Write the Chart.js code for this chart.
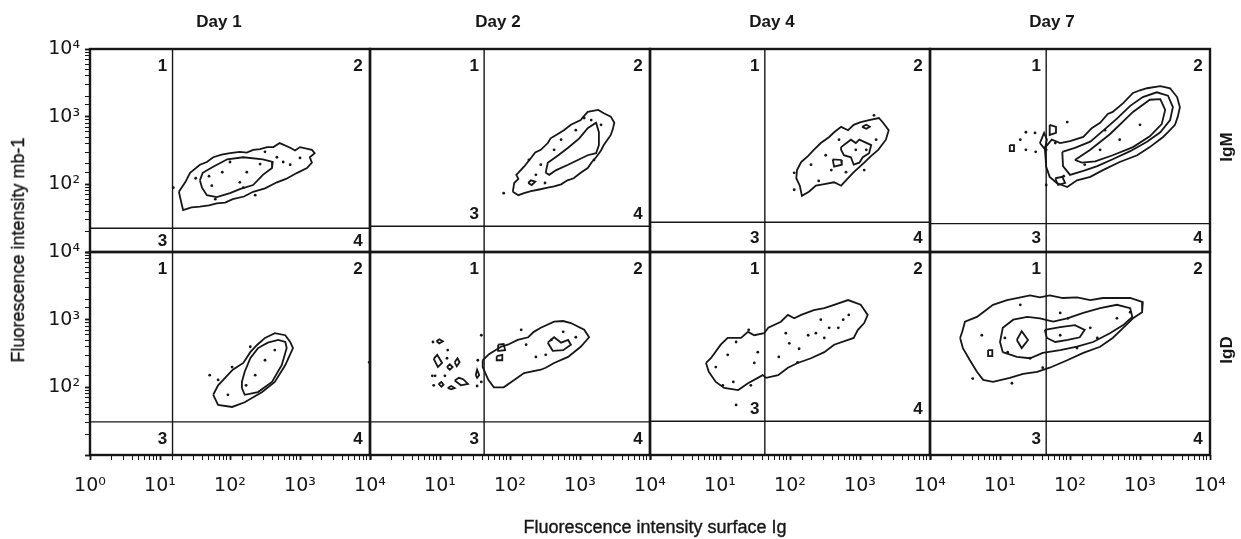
<!DOCTYPE html>
<html>
<head>
<meta charset="utf-8">
<script src="https://cdn.jsdelivr.net/npm/chart.js@4.4.1/dist/chart.umd.min.js"></script>
<style>
  html, body { margin: 0; background: #fff; }
  #wrap { position: relative; width: 1241px; height: 539px; font-family: "Liberation Sans", Arial, sans-serif; color: #161616; }
  #wrap canvas { position: absolute; left: 0; top: 0; }
  .t { position: absolute; white-space: nowrap; transform: translate(-50%, -50%); line-height: 1; }
  .day { font-weight: bold; font-size: 17px; }
  .axis { font-size: 18px; -webkit-text-stroke: 0.35px #161616; }
  .row { font-size: 17px; font-weight: bold; }
  .rot { transform: translate(-50%, -50%) rotate(-90deg); }
</style>
</head>
<body>
<div id="wrap">
  <canvas id="c" width="1241" height="539"></canvas>
</div>
<script>
const COLS = ['Day 1', 'Day 2', 'Day 4', 'Day 7'];
const ROWS = ['IgM', 'IgD'];
const X_TITLE = 'Fluorescence intensity surface Ig';
const Y_TITLE = 'Fluorescence intensity mb-1';
const X_RANGE = [1, 10000];
const Y_RANGE = [10, 10000];

// quadrant gates per [row][col]
const X_GATE = [[15.1, 42.7, 43.7, 45.7], [15.1, 42.7, 43.7, 45.7]];
const Y_GATE = [[22.4, 24.0, 27.5, 26.3], [30.9, 30.9, 31.6, 31.6]];
const LOW_LABELS_ABOVE = [[false, true, false, false], [false, false, true, false]];
const QUAD_LABELS = ['1', '2', '3', '4'];

// contour rings, as [log10 x, log10 y] pairs
const IGM_D1 = [
  [[1.27, 1.89], [1.30, 1.75], [1.33, 1.62], [1.45, 1.66], [1.57, 1.67], [1.70, 1.69], [1.81, 1.72], [1.93, 1.73], [2.04, 1.78], [2.20, 1.82], [2.33, 1.89], [2.50, 1.94], [2.67, 2.03], [2.80, 2.08], [2.96, 2.17], [3.10, 2.24], [3.17, 2.32], [3.14, 2.40], [3.21, 2.46], [3.17, 2.51], [3.00, 2.55], [2.93, 2.50], [2.86, 2.54], [2.71, 2.61], [2.62, 2.55], [2.53, 2.55], [2.43, 2.52], [2.33, 2.51], [2.24, 2.47], [2.14, 2.48], [2.00, 2.46], [1.88, 2.44], [1.76, 2.40], [1.67, 2.33], [1.57, 2.29], [1.43, 2.17], [1.36, 2.03]],
  [[1.57, 2.06], [1.61, 2.17], [1.76, 2.26], [1.96, 2.37], [2.19, 2.40], [2.47, 2.37], [2.61, 2.33], [2.60, 2.24], [2.47, 2.14], [2.33, 1.99], [2.14, 1.93], [2.00, 1.87], [1.81, 1.81], [1.67, 1.84], [1.60, 1.95]],
];
const IGM_D2 = [
  [[2.04, 1.89], [2.12, 1.84], [2.20, 1.87], [2.30, 1.90], [2.40, 1.92], [2.54, 1.95], [2.63, 1.97], [2.73, 2.00], [2.82, 2.06], [2.91, 2.09], [3.01, 2.17], [3.11, 2.24], [3.17, 2.33], [3.23, 2.40], [3.30, 2.50], [3.34, 2.58], [3.44, 2.73], [3.47, 2.82], [3.49, 2.91], [3.44, 3.00], [3.34, 3.05], [3.26, 3.10], [3.11, 3.07], [3.05, 3.00], [3.01, 2.95], [2.87, 2.88], [2.77, 2.80], [2.66, 2.73], [2.58, 2.68], [2.54, 2.61], [2.44, 2.51], [2.36, 2.47], [2.30, 2.39], [2.20, 2.26], [2.09, 2.14], [2.12, 2.08], [2.06, 2.02]],
  [[2.51, 2.17], [2.54, 2.32], [2.69, 2.43], [2.83, 2.54], [2.99, 2.68], [3.11, 2.83], [3.23, 2.91], [3.27, 2.77], [3.27, 2.58], [3.23, 2.46], [3.11, 2.43], [2.97, 2.36], [2.83, 2.29], [2.66, 2.21], [2.56, 2.14]],
  [[2.26, 2.02], [2.30, 2.06], [2.36, 2.04], [2.31, 1.99]],
];
const IGM_D4 = [
  [[2.16, 2.33], [2.10, 2.21], [2.09, 2.09], [2.14, 1.98], [2.17, 1.83], [2.27, 1.89], [2.37, 1.98], [2.47, 2.00], [2.63, 2.03], [2.73, 1.98], [2.80, 2.06], [2.90, 2.17], [3.06, 2.32], [3.16, 2.42], [3.26, 2.51], [3.37, 2.66], [3.41, 2.80], [3.33, 2.91], [3.27, 2.98], [3.13, 2.95], [3.01, 2.92], [2.91, 2.88], [2.83, 2.80], [2.73, 2.85], [2.63, 2.77], [2.56, 2.70], [2.44, 2.61], [2.34, 2.51], [2.26, 2.42]],
  [[2.73, 2.55], [2.87, 2.66], [2.94, 2.61], [2.99, 2.66], [3.16, 2.58], [3.13, 2.46], [3.04, 2.40], [2.99, 2.32], [2.91, 2.29], [2.87, 2.40], [2.77, 2.43], [2.73, 2.51]],
  [[2.61, 2.37], [2.73, 2.36], [2.74, 2.29], [2.63, 2.26]],
  [[3.03, 2.85], [3.09, 2.88], [3.14, 2.85], [3.09, 2.82]],
];
const IGM_D7 = [
  [[1.64, 2.54], [1.74, 2.66], [1.86, 2.61], [2.00, 2.64], [2.19, 2.70], [2.31, 2.83], [2.43, 2.91], [2.54, 3.04], [2.61, 3.07], [2.76, 3.20], [2.90, 3.35], [3.00, 3.39], [3.10, 3.42], [3.29, 3.45], [3.43, 3.42], [3.53, 3.29], [3.57, 3.14], [3.54, 3.00], [3.50, 2.88], [3.40, 2.77], [3.33, 2.70], [3.14, 2.55], [2.96, 2.43], [2.71, 2.33], [2.47, 2.21], [2.29, 2.11], [2.10, 2.06], [1.96, 1.96], [1.81, 2.02], [1.71, 2.11], [1.66, 2.26]],
  [[1.89, 2.48], [2.07, 2.54], [2.29, 2.63], [2.47, 2.79], [2.67, 2.97], [2.86, 3.16], [3.04, 3.29], [3.24, 3.36], [3.40, 3.31], [3.47, 3.14], [3.43, 2.95], [3.29, 2.77], [3.10, 2.63], [2.86, 2.49], [2.61, 2.37], [2.39, 2.27], [2.19, 2.20], [2.00, 2.14], [1.90, 2.27]],
  [[2.07, 2.36], [2.29, 2.51], [2.57, 2.74], [2.90, 3.07], [3.14, 3.25], [3.29, 3.26], [3.36, 3.10], [3.31, 2.89], [3.14, 2.71], [2.90, 2.55], [2.61, 2.43], [2.36, 2.34], [2.17, 2.32]],
  [[1.71, 2.88], [1.80, 2.85], [1.80, 2.76], [1.71, 2.73]],
  [[1.14, 2.58], [1.20, 2.58], [1.20, 2.49], [1.14, 2.49]],
  [[1.57, 2.61], [1.63, 2.76], [1.67, 2.66], [1.64, 2.52]],
  [[1.79, 2.09], [1.89, 2.11], [1.93, 2.02], [1.83, 1.99]],
];
const IGD_D1 = [
  [[1.76, 1.89], [1.83, 1.74], [2.03, 1.71], [2.21, 1.78], [2.46, 1.93], [2.64, 2.08], [2.79, 2.33], [2.90, 2.58], [2.86, 2.67], [2.79, 2.77], [2.64, 2.80], [2.50, 2.73], [2.39, 2.63], [2.29, 2.52], [2.19, 2.36], [2.04, 2.26], [1.93, 2.14], [1.83, 2.03]],
  [[2.17, 1.99], [2.21, 1.89], [2.40, 1.93], [2.60, 2.08], [2.74, 2.33], [2.81, 2.58], [2.79, 2.67], [2.69, 2.70], [2.54, 2.66], [2.40, 2.58], [2.29, 2.43], [2.21, 2.23], [2.17, 2.08]],
];
const IGD_D2 = [
  [[1.61, 2.40], [1.70, 2.49], [1.87, 2.60], [1.97, 2.63], [2.11, 2.70], [2.26, 2.74], [2.34, 2.82], [2.44, 2.88], [2.63, 2.97], [2.76, 2.98], [2.87, 2.95], [3.06, 2.85], [3.13, 2.74], [3.01, 2.60], [2.83, 2.45], [2.63, 2.36], [2.51, 2.29], [2.44, 2.26], [2.20, 2.21], [2.06, 2.11], [1.91, 2.00], [1.77, 2.00], [1.69, 2.11], [1.61, 2.30]],
  [[2.54, 2.66], [2.63, 2.74], [2.73, 2.66], [2.83, 2.70], [2.87, 2.63], [2.76, 2.55], [2.61, 2.54]],
  [[1.83, 2.63], [1.91, 2.64], [1.93, 2.55], [1.84, 2.54]],
  [[1.81, 2.46], [1.89, 2.48], [1.89, 2.40], [1.81, 2.40]],
  [[0.95, 2.68], [0.99, 2.71], [1.04, 2.68], [0.99, 2.65]],
  [[0.91, 2.42], [0.96, 2.48], [1.03, 2.36], [0.97, 2.30]],
  [[1.10, 2.30], [1.14, 2.34], [1.18, 2.30], [1.14, 2.26]],
  [[1.21, 2.37], [1.25, 2.43], [1.28, 2.37], [1.24, 2.31]],
  [[1.21, 2.10], [1.27, 2.14], [1.33, 2.12], [1.40, 2.05], [1.30, 2.03]],
  [[0.98, 2.05], [1.02, 2.08], [1.05, 2.04], [1.02, 2.01]],
  [[1.11, 1.99], [1.16, 2.02], [1.21, 1.99], [1.16, 1.97]],
  [[1.51, 2.18], [1.53, 2.26], [1.56, 2.18], [1.53, 2.14]],
];
const IGD_D4 = [
  [[0.80, 2.36], [0.84, 2.23], [0.94, 2.08], [1.06, 1.99], [1.26, 1.96], [1.40, 2.06], [1.54, 2.14], [1.61, 2.18], [1.66, 2.14], [1.83, 2.18], [1.97, 2.29], [2.11, 2.36], [2.30, 2.43], [2.49, 2.52], [2.63, 2.63], [2.83, 2.70], [2.91, 2.73], [2.97, 2.85], [3.06, 2.95], [3.11, 3.07], [3.01, 3.22], [2.83, 3.29], [2.63, 3.22], [2.49, 3.17], [2.34, 3.14], [2.16, 3.07], [2.06, 3.02], [1.97, 3.07], [1.87, 2.97], [1.69, 2.88], [1.63, 2.80], [1.49, 2.77], [1.40, 2.82], [1.30, 2.73], [1.11, 2.73], [1.01, 2.63], [0.87, 2.43]],
];
const IGD_D7 = [
  [[0.43, 2.73], [0.46, 2.82], [0.50, 2.97], [0.67, 3.04], [0.76, 3.11], [0.90, 3.22], [1.10, 3.29], [1.24, 3.32], [1.43, 3.36], [1.57, 3.33], [1.71, 3.36], [1.90, 3.32], [2.10, 3.33], [2.29, 3.29], [2.47, 3.32], [2.67, 3.32], [2.86, 3.32], [3.04, 3.26], [3.03, 3.11], [2.90, 3.02], [2.76, 2.88], [2.61, 2.73], [2.43, 2.60], [2.19, 2.51], [1.96, 2.40], [1.71, 2.29], [1.53, 2.23], [1.33, 2.20], [1.14, 2.14], [0.90, 2.08], [0.76, 2.11], [0.67, 2.23], [0.57, 2.40], [0.47, 2.58]],
  [[1.04, 2.52], [1.00, 2.67], [1.04, 2.88], [1.19, 3.00], [1.39, 3.04], [1.57, 3.02], [1.76, 2.97], [1.96, 3.02], [2.19, 3.10], [2.43, 3.17], [2.67, 3.22], [2.86, 3.17], [2.89, 3.04], [2.76, 2.92], [2.57, 2.80], [2.33, 2.67], [2.10, 2.60], [1.86, 2.55], [1.61, 2.51], [1.43, 2.43], [1.24, 2.45]],
  [[1.64, 2.85], [1.86, 2.89], [2.07, 2.92], [2.21, 2.85], [2.14, 2.74], [1.97, 2.70], [1.79, 2.67], [1.67, 2.73]],
  [[1.24, 2.70], [1.31, 2.83], [1.40, 2.70], [1.31, 2.58]],
  [[0.83, 2.55], [0.89, 2.55], [0.89, 2.46], [0.83, 2.46]],
];

// single events, as [log10 x, log10 y] pairs
const IGM_D1_DOTS = [[1.19, 1.95], [1.51, 2.09], [1.74, 1.98], [1.89, 2.18], [2.14, 2.03], [2.24, 2.18], [2.19, 1.95], [2.43, 2.30], [2.67, 2.40], [2.76, 2.33], [2.86, 2.29], [3.00, 2.39], [2.00, 2.33], [1.79, 1.78], [2.50, 2.48], [2.36, 1.84], [1.70, 2.12]];
const IGM_D2_DOTS = [[1.91, 1.87], [2.44, 2.29], [2.63, 2.51], [2.73, 2.66], [2.94, 2.80], [3.16, 2.95], [3.30, 2.88], [3.06, 2.98], [2.37, 2.14], [2.27, 2.36], [2.50, 2.02], [3.20, 2.36]];
const IGM_D4_DOTS = [[2.06, 2.17], [2.06, 1.92], [2.41, 2.05], [3.20, 3.02], [2.59, 2.21], [2.80, 2.18], [2.94, 2.51], [3.09, 2.51], [2.51, 2.43], [2.70, 2.66], [3.23, 2.66], [2.30, 2.29], [3.06, 2.21]];
const IGM_D7_DOTS = [[1.50, 2.76], [1.37, 2.77], [1.37, 2.51], [1.51, 2.48], [1.66, 2.51], [1.96, 2.92], [1.79, 2.61], [1.91, 2.12], [2.21, 2.29], [2.43, 2.51], [2.71, 2.66], [3.00, 2.88], [1.66, 1.99], [2.50, 2.80], [1.29, 2.66]];
const IGD_D1_DOTS = [[1.71, 2.18], [1.83, 2.11], [2.03, 2.30], [2.29, 2.60], [3.99, 2.37], [1.97, 1.89], [2.23, 2.03], [2.50, 2.40], [2.64, 2.55], [2.36, 2.18]];
const IGD_D2_DOTS = [[0.90, 2.67], [1.11, 2.55], [1.10, 2.43], [0.91, 2.03], [0.89, 2.17], [0.93, 2.17], [1.07, 2.17], [1.53, 2.02], [1.54, 2.40], [1.59, 2.77], [2.16, 2.85], [2.37, 2.45], [2.51, 2.48], [2.59, 2.70], [2.94, 2.74], [2.76, 2.82], [2.23, 2.63], [1.59, 2.08]];
const IGD_D4_DOTS = [[1.23, 2.67], [1.11, 2.48], [0.94, 2.30], [1.49, 2.36], [1.41, 2.85], [1.54, 2.52], [1.94, 2.80], [1.99, 2.65], [2.13, 2.57], [2.26, 2.77], [2.37, 2.80], [2.44, 3.00], [2.56, 2.88], [2.69, 2.88], [2.76, 3.00], [2.84, 3.07], [2.49, 2.73], [1.84, 2.45], [2.11, 2.37], [1.19, 2.08], [1.04, 2.03], [1.44, 2.03], [1.23, 1.74]];
const IGD_D7_DOTS = [[0.74, 2.77], [0.61, 2.13], [1.17, 2.06], [1.29, 3.22], [1.86, 3.10], [1.97, 3.02], [2.29, 2.88], [2.67, 3.02], [1.07, 2.73], [1.11, 2.52], [1.43, 2.43], [2.10, 2.58], [2.39, 2.73], [1.61, 2.29], [1.86, 2.77], [2.86, 3.11]];

const PANELS = [
  { row: 0, col: 0, rings: IGM_D1, dots: IGM_D1_DOTS },
  { row: 0, col: 1, rings: IGM_D2, dots: IGM_D2_DOTS },
  { row: 0, col: 2, rings: IGM_D4, dots: IGM_D4_DOTS },
  { row: 0, col: 3, rings: IGM_D7, dots: IGM_D7_DOTS },
  { row: 1, col: 0, rings: IGD_D1, dots: IGD_D1_DOTS },
  { row: 1, col: 1, rings: IGD_D2, dots: IGD_D2_DOTS },
  { row: 1, col: 2, rings: IGD_D4, dots: IGD_D4_DOTS },
  { row: 1, col: 3, rings: IGD_D7, dots: IGD_D7_DOTS },
];

// page layout for the html labels
const TITLE_X = [219, 498, 772, 1052];
const TITLE_Y = 21;
const ROW_LABEL_X = 1226;
const ROW_LABEL_Y = [147, 350];

const INK = '#161616';
const SUP = ['⁰', '¹', '²', '³', '⁴'];
const TICK_FONT = { family: '"DejaVu Sans", sans-serif', size: 19 };

function decade(value) {
  const e = Math.log10(value);
  return Math.abs(e - Math.round(e)) < 1e-6 ? Math.round(e) : null;
}

function tickLabel(value, minExp) {
  const e = decade(value);
  return e !== null && e >= minExp ? '10' + SUP[e] : '';
}

function toPoints(pairs) {
  return pairs.map(([a, b]) => ({ x: 10 ** a, y: 10 ** b }));
}

const wrap = document.getElementById('wrap');
wrap.insertAdjacentHTML('beforeend', `
  ${COLS.map((label, c) => `<div class="t day" style="left:${TITLE_X[c]}px;top:${TITLE_Y}px">${label}</div>`).join('')}
  ${ROWS.map((label, r) => `<div class="t row rot" style="left:${ROW_LABEL_X}px;top:${ROW_LABEL_Y[r]}px">${label}</div>`).join('')}
  <div class="t axis rot" style="left:18px;top:250px">${Y_TITLE}</div>
  <div class="t axis" style="left:655px;top:527px">${X_TITLE}</div>
`);

const grid = {
  drawOnChartArea: false,
  drawTicks: true,
  tickLength: 5,
  tickColor: INK,
  tickWidth: (ctx) => (ctx.tick && decade(ctx.tick.value) !== null ? 1.8 : 1),
};

function xScale(c) {
  return {
    type: 'logarithmic',
    position: 'bottom',
    stack: 'cols',
    stackWeight: 1,
    min: X_RANGE[0],
    max: X_RANGE[1],
    afterFit: (scale) => { scale.height = 84; },
    border: { display: false },
    grid,
    ticks: {
      autoSkip: false, maxRotation: 0, padding: 15, color: INK, font: TICK_FONT,
      callback: (value) => tickLabel(value, c === 0 ? 0 : 1),
    },
  };
}

function yScale() {
  return {
    type: 'logarithmic',
    position: 'left',
    stack: 'rows',
    stackWeight: 1,
    min: Y_RANGE[0],
    max: Y_RANGE[1],
    afterFit: (scale) => { scale.width = 40; },
    border: { display: false },
    grid,
    ticks: {
      autoSkip: false, padding: 5, color: INK, font: TICK_FONT,
      callback: (value) => tickLabel(value, 2),
    },
  };
}

const scales = {};
COLS.forEach((_, c) => { scales['x' + c] = xScale(c); });
scales.y1 = yScale();
scales.y0 = yScale();

const datasets = [];
PANELS.forEach(({ row, col, rings, dots }) => {
  const ids = { xAxisID: 'x' + col, yAxisID: 'y' + row };
  rings.forEach((ring) => {
    datasets.push({
      ...ids, data: toPoints([...ring, ring[0]]), showLine: true,
      borderColor: INK, borderWidth: 1.8, pointRadius: 0, tension: 0,
    });
  });
  datasets.push({ ...ids, data: toPoints(dots), pointRadius: 1.4, backgroundColor: INK, borderWidth: 0 });
  const gx = X_GATE[row][col];
  const gy = Y_GATE[row][col];
  datasets.push({
    ...ids, data: [{ x: gx, y: Y_RANGE[0] }, { x: gx, y: Y_RANGE[1] }], showLine: true,
    borderColor: INK, borderWidth: 1.4, pointRadius: 0,
  });
  datasets.push({
    ...ids, data: [{ x: X_RANGE[0], y: gy }, { x: X_RANGE[1], y: gy }], showLine: true,
    borderColor: INK, borderWidth: 1.4, pointRadius: 0,
  });
});

const panelDecor = {
  id: 'panelDecor',
  afterDatasetsDraw(chart) {
    const { ctx } = chart;
    ctx.save();
    ctx.strokeStyle = INK;
    ctx.fillStyle = INK;
    ctx.lineWidth = 2.4;
    ctx.font = 'bold 17px "Liberation Sans", Arial, sans-serif';
    ctx.textAlign = 'center';
    ctx.textBaseline = 'middle';
    ROWS.forEach((_, r) => COLS.forEach((_, c) => {
      const xs = chart.scales['x' + c];
      const ys = chart.scales['y' + r];
      ctx.strokeRect(xs.left, ys.top, xs.right - xs.left, ys.bottom - ys.top);
      const gx = xs.getPixelForValue(X_GATE[r][c]);
      const gy = ys.getPixelForValue(Y_GATE[r][c]);
      const topY = ys.top + 17;
      const lowY = LOW_LABELS_ABOVE[r][c] ? gy - 12 : (gy + ys.bottom) / 2 + 1;
      const spots = [[gx - 10, topY], [xs.right - 12, topY], [gx - 10, lowY], [xs.right - 12, lowY]];
      QUAD_LABELS.forEach((label, i) => ctx.fillText(label, spots[i][0], spots[i][1]));
    }));
    ctx.restore();
  },
};

new Chart(document.getElementById('c'), {
  type: 'scatter',
  data: { datasets },
  options: {
    responsive: false,
    animation: false,
    events: [],
    layout: { padding: { left: 50, top: 49, right: 31, bottom: 0 } },
    plugins: { legend: { display: false }, tooltip: { enabled: false } },
    scales,
  },
  plugins: [panelDecor],
});
</script>
</body>
</html>
